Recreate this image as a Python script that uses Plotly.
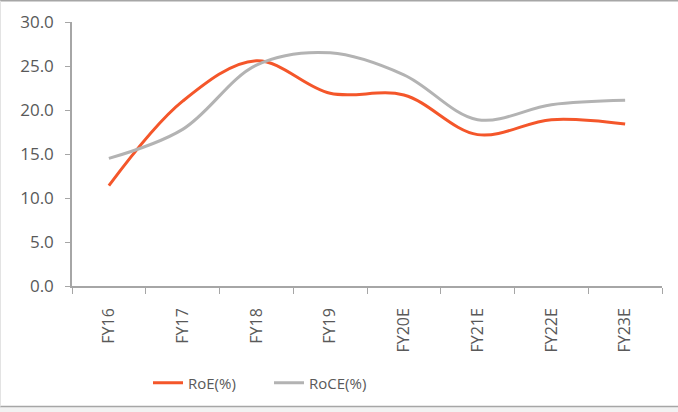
import plotly.graph_objects as go

categories = ["FY16", "FY17", "FY18", "FY19", "FY20E", "FY21E", "FY22E", "FY23E"]
roe = [11.4, 21.0, 25.6, 21.9, 21.7, 17.2, 18.9, 18.4]
roce = [14.5, 17.8, 25.1, 26.5, 24.0, 18.9, 20.6, 21.1]
y_ticks = [0, 5, 10, 15, 20, 25, 30]

W, H = 678, 412
L, R, T, B = 72, 16, 22, 126
pw, ph = W - L - R, H - T - B


def px_x(x):
    return (x - L) / pw


def px_y(y):
    return (H - B - y) / ph


fig = go.Figure()
fig.add_trace(go.Scatter(x=categories, y=roe, name="RoE(%)", mode="lines",
                         line=dict(color="#F4562A", width=3, shape="spline", smoothing=1)))
fig.add_trace(go.Scatter(x=categories, y=roce, name="RoCE(%)", mode="lines",
                         line=dict(color="#B3B3B3", width=3, shape="spline", smoothing=1)))

font_family = "Open Sans, Noto Sans, sans-serif"
fig.update_layout(
    width=W, height=H,
    margin=dict(l=L, r=R, t=T, b=B, autoexpand=False),
    paper_bgcolor="white", plot_bgcolor="white",
    font=dict(family=font_family, size=16, color="#595959"),
    showlegend=True,
    legend=dict(orientation="h", x=px_x(148), y=px_y(383),
                xanchor="left", yanchor="middle", font=dict(size=15, color="#595959"),
                itemwidth=30, entrywidth=76, entrywidthmode="pixels"),
    xaxis=dict(type="category", showline=True, linecolor="#A6A6A6", linewidth=1.5,
               ticks="outside", tickson="boundaries", ticklen=6, tickcolor="#A6A6A6",
               tickangle=-90, showgrid=False, zeroline=False, automargin=False,
               ticklabelstandoff=14, tickfont=dict(size=16),
               range=[-0.5, len(categories) - 0.5]),
    yaxis=dict(range=[0, 30], tickvals=y_ticks, tickformat=".1f", showline=True,
               linecolor="#A6A6A6", linewidth=1.5, ticks="outside", ticklen=5,
               tickcolor="#A6A6A6", showgrid=False, zeroline=False, automargin=False,
               ticklabelstandoff=8, tickfont=dict(size=17)),
    shapes=[
        dict(type="rect", xref="paper", yref="paper",
             x0=px_x(0), x1=px_x(W), y0=px_y(H), y1=px_y(407),
             line=dict(width=0), fillcolor="#F2F2F2", layer="below"),
        dict(type="line", xref="paper", yref="paper",
             x0=px_x(0), x1=px_x(W), y0=px_y(0.75), y1=px_y(0.75),
             line=dict(color="#A6A6A6", width=1.5)),
        dict(type="line", xref="paper", yref="paper",
             x0=px_x(0), x1=px_x(W), y0=px_y(406.5), y1=px_y(406.5),
             line=dict(color="#A6A6A6", width=1.5)),
        dict(type="line", xref="paper", yref="paper",
             x0=px_x(0.5), x1=px_x(0.5), y0=px_y(0.75), y1=px_y(406.5),
             line=dict(color="#E3E3E3", width=1)),
    ],
)

fig.write_html("out.html", config={"displayModeBar": False},
               post_script="document.body.style.margin='0';document.body.style.overflow='hidden';")
